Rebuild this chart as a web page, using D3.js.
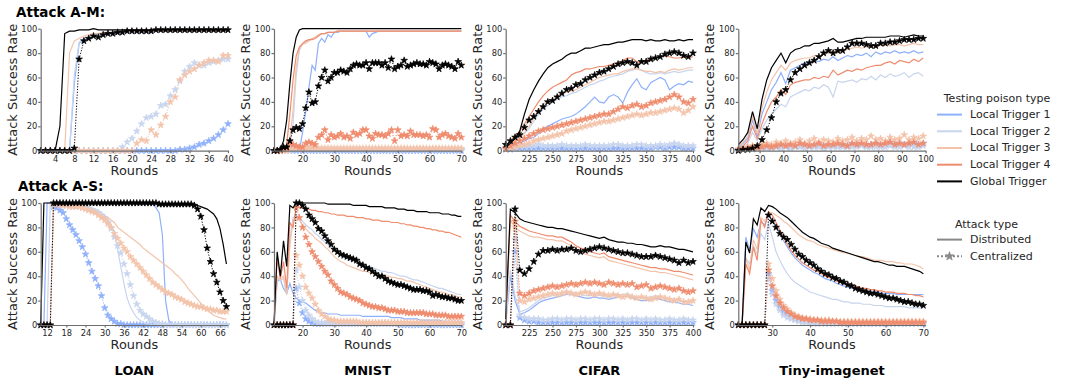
<!DOCTYPE html>
<html>
<head>
<meta charset="utf-8">
<script src="https://cdn.jsdelivr.net/npm/d3@7"></script>
<style>
  body { margin: 0; background: #fff; }
  text { font-family: "DejaVu Sans", sans-serif; fill: #262626; }
  .axis text { font-size: 8.3px; }
  .axis path, .axis line { stroke: #6e6e6e; stroke-width: 1.2; }
</style>
</head>
<body>
<svg id="chart" width="1065" height="378"></svg>
<script>
const triggerNames = ["Local Trigger 1", "Local Trigger 2", "Local Trigger 3", "Local Trigger 4", "Global Trigger"];
const triggerColors = ["#8fb0fb", "#c8d5ee", "#f3c4ab", "#ef8c6e", "#000000"];
const attackTypes = ["Distributed", "Centralized"];
const datasetNames = ["LOAN", "MNIST", "CIFAR", "Tiny-imagenet"];
const rowTitles = ["Attack A-M:", "Attack A-S:"];
const yTicks = [0, 20, 40, 60, 80, 100];

// every series list is ordered LT1, LT2, LT3, LT4, Global (null = not plotted)

// LOAN, A-M
const loanAM_rounds = d3.range(1, 41);
const loanAM_dist = [
  [0,0,0,0,0,0,0,55,88,91, 93,94,95,95,96,96,96,97,97,97, 97,97,97,97,98,98,98,98,98,98, 98,98,98,98,98,98,98,98,98,98],
  [0,0,0,0,0,0,0,62,89,92, 93,94,95,96,96,96,97,97,97,97, 97,97,97,98,98,98,98,98,98,98, 98,98,98,98,98,98,98,98,98,98],
  [0,0,0,0,0,0,80,90,92,94, 95,96,96,97,97,97,98,98,98,98, 98,98,98,98,98,98,98,98,98,98, 98,98,98,98,98,98,98,98,98,98],
  null,
  [0,0,0,0,20,96,98,98,99,99, 99,100,99,99,99,99,99,99,99,99, 99,99,99,99,99,99,99,99,99,99, 99,99,99,99,99,99,99,99,99,99]
];
const loanAM_cent = [
  [0,0,0,0,0,0,0,0,0,0, 0,0,0,0,0,0,0,0,0,0, 0,0,0,0,0,0,0,0,0,1, 1,2,3,5,6,8,10,13,17,22],
  [0,0,0,0,0,0,0,0,0,0, 0,0,0,0,0,0,0,3,7,10, 16,22,27,28,30,37,38,45,50,57, 65,69,72,70,70,72,73,74,75,75],
  [0,0,0,0,0,0,0,0,0,0, 0,0,0,0,0,0,0,0,0,0, 6,9,8,17,13,21,28,40,44,58, 62,65,67,70,72,74,74,73,78,78],
  null,
  [0,0,0,0,0,0,0,2,75,90, 92,94,93,95,96,96,97,97,98,98, 98,98,98,98,99,99,99,99,99,99, 99,99,99,99,99,99,99,99,99,99]
];

// MNIST, A-M
const mnistAM_rounds = d3.range(11, 71);
const mnistAM_dist = [
  [0,0,0,0,0,0,0,0,0,15, 32,52,70,66,88,92,89,95,93,97, 97,98,98,98,98,98,98,98,98,98, 93,96,97,98,98,98,98,98,98,98, 98,98,98,98,98,98,98,98,98,98, 98,98,98,98,98,98,98,98,98,98],
  [0,0,0,0,1,6,22,62,82,88, 89,91,92,93,95,96,96,97,97,97, 98,98,98,98,98,98,98,98,98,98, 98,98,98,98,98,98,98,98,98,98, 98,98,98,98,98,98,98,98,98,98, 98,98,98,98,98,98,98,98,98,98],
  [0,0,0,0,2,10,33,69,84,87, 88,90,92,93,95,96,96,97,97,97, 98,98,98,98,98,98,98,98,98,98, 98,98,98,98,98,98,98,98,98,98, 98,98,98,98,98,98,98,98,98,98, 98,98,98,98,98,98,98,98,98,98],
  [0,0,0,1,5,30,58,78,85,88, 90,91,91,92,94,96,96,97,97,97, 98,98,98,98,98,98,98,98,98,98, 98,98,98,98,98,98,98,98,98,98, 98,98,98,98,98,98,98,98,98,98, 98,98,98,98,98,98,98,98,98,98],
  [2,0,1,8,25,55,80,93,99,100, 100,100,100,100,100,100,100,100,100,100, 100,100,100,100,100,100,100,100,100,100, 100,100,100,100,100,100,100,100,100,100, 100,100,100,100,100,100,100,100,100,100, 100,100,100,100,100,100,100,100,100,100]
];
const mnistAM_cent = [
  [0,0,0,0,0,0,0,0,0,0, 0,0,0,0,0,0,0,0,0,0, 0,0,0,0,0,0,0,0,0,0, 0,0,0,0,0,0,0,0,0,0, 0,0,0,0,0,0,0,0,0,0, 0,0,0,0,0,0,0,0,0,0],
  [0,0,0,0,0,0,1,1,1,1, 1,1,1,1,1,1,1,1,1,1, 1,1,1,1,1,1,1,1,1,1, 1,1,1,1,1,1,1,1,1,1, 1,1,1,1,1,1,1,1,1,1, 1,1,1,1,1,1,1,1,1,1],
  [0,0,0,0,0,1,2,2,2,2, 2,2,2,2,2,2,2,2,2,2, 2,2,2,2,2,2,2,2,2,2, 2,2,2,2,2,2,2,2,2,2, 2,2,2,2,2,2,2,2,2,2, 2,2,2,2,2,2,2,2,2,2],
  [0,0,0,1,2,6,5,4,3,3, 6,7,6,5,11,13,17,9,13,11, 12,14,11,12,10,15,13,14,17,17, 12,10,14,13,13,12,14,17,8,17, 12,13,12,16,13,13,13,12,13,11, 18,17,11,13,14,12,11,10,14,11],
  [0,0,1,3,3,8,17,19,18,22, 35,48,39,40,53,60,66,57,60,64, 64,66,65,64,67,70,71,70,70,72, 67,72,72,72,70,72,68,75,67,69, 70,74,69,70,71,72,71,71,70,73, 72,71,67,70,71,70,69,67,73,70]
];

// CIFAR, A-M
const cifarAM_rounds = d3.range(200, 401, 5);
const cifarAM_dist = [
  [1,2,4,6,8,10,11,14,18,20, 22,24,26,27,28,30,33,36,40,44, 40,39,44,46,44,39,48,54,59,52, 50,56,58,60,58,50,53,55,54,57, 56],
  [2,4,7,10,14,18,24,30,34,37, 40,42,44,45,47,48,50,52,54,55, 57,58,60,61,62,63,65,66,67,66, 64,63,63,64,63,64,65,64,65,66, 66],
  [3,5,8,11,15,20,27,33,38,41, 43,45,47,48,49,50,52,54,56,58, 60,61,62,63,63,65,66,67,67,66, 65,65,64,65,64,66,67,66,67,68, 68],
  [4,8,12,16,22,28,34,40,45,49, 52,54,56,58,62,64,65,67,67,68, 69,69,70,71,72,74,76,76,73,72, 74,75,76,77,78,77,76,76,77,76, 77],
  [3,6,10,16,30,42,50,57,63,68, 71,73,75,78,80,80,82,84,84,85, 86,87,87,88,89,89,90,91,91,91, 90,91,90,90,91,90,90,91,90,91, 91]
];
const cifarAM_cent = [
  [1,1,2,2,2,2,2,2,2,2, 2,2,2,2,2,2,2,2,2,2, 2,2,2,2,2,2,2,2,2,2, 2,2,3,3,2,3,3,3,2,2, 2],
  [2,3,3,4,4,4,4,5,4,4, 4,4,5,4,4,4,4,5,4,4, 4,4,4,5,5,4,4,4,5,5, 4,4,4,5,4,5,6,5,4,4, 4],
  [1,2,3,4,5,6,8,9,10,11, 12,13,14,16,17,18,19,20,21,22, 23,24,24,25,26,27,28,29,30,29, 30,31,31,32,33,34,35,34,31,33, 36],
  [2,4,6,8,10,12,14,16,17,18, 19,20,21,22,23,24,25,26,27,28, 29,30,30,32,34,36,35,37,38,36, 37,39,40,41,42,44,46,44,40,39, 42],
  [5,8,11,13,19,25,28,32,36,40, 41,44,47,50,51,54,55,58,60,62, 64,65,67,69,71,72,73,72,70,73, 73,75,76,77,79,80,81,80,78,77, 80]
];

// Tiny-imagenet, A-M
const tinyAM_rounds = d3.range(21, 100, 2);
const tinyAM_dist = [
  [3,6,10,25,12,30,40,50,56,64, 55,66,68,70,72,72,74,73,75,74, 77,74,76,78,77,79,78,80,77,81, 79,81,80,82,80,81,80,82,80,81],
  [2,3,6,15,8,18,25,30,34,38, 36,44,46,48,50,49,52,51,54,52, 44,57,56,57,58,56,59,58,61,58, 62,60,63,61,62,64,60,63,64,61],
  [4,7,12,28,14,35,48,58,64,70, 66,72,74,75,76,76,78,77,79,80, 82,80,82,83,84,85,84,85,86,85, 86,87,86,87,87,86,87,88,87,87],
  [2,4,8,20,10,22,32,40,44,50, 46,54,56,57,58,58,60,59,61,60, 66,62,64,66,65,67,66,68,69,70, 70,72,73,71,74,73,72,75,73,76],
  [5,9,15,32,18,42,58,68,74,80, 72,80,83,84,86,86,88,88,89,90, 92,89,89,90,91,92,92,93,93,93, 93,93,94,94,94,93,94,95,94,94]
];
const tinyAM_cent = [
  [1,1,2,2,2,3,3,4,3,4, 4,3,4,4,5,4,4,5,4,4, 5,4,5,4,5,6,5,4,5,6, 5,5,6,5,6,5,6,6,5,6],
  [0,1,1,1,2,2,2,2,3,2, 3,2,3,3,2,3,3,3,2,3, 3,3,3,3,3,3,4,3,3,3, 3,3,4,3,3,4,3,3,3,4],
  [1,2,3,4,3,5,6,5,7,6, 8,6,7,9,6,8,10,7,9,8, 7,10,8,9,11,8,10,9,12,9, 10,8,11,9,10,13,9,11,10,12],
  [1,1,2,3,2,3,4,3,4,5, 4,5,4,6,5,4,5,6,4,5, 5,6,5,4,6,5,6,5,5,6, 5,6,7,5,6,5,6,7,5,6],
  [0,1,1,2,4,9,17,27,40,47, 50,58,64,67,70,72,74,77,80,82, 80,82,82,85,88,88,88,87,86,86, 88,88,89,89,90,91,91,91,92,92]
];

// LOAN, A-S
const loanAS_rounds = d3.range(10, 69);
const loanAS_dist = [
  [0,0,100,100,100,100,100,100,100,100, 100,100,100,100,100,100,100,100,100,100, 100,100,100,100,100,100,100,100,100,100, 99,99,99,99,99,99,96,92,74,20, 4,1,0,0,0,0,0,0,0,0, 0,0,0,0,0,0,0,0,0],
  [0,0,0,100,100,100,100,100,100,100, 100,100,99,99,98,97,96,95,94,92, 90,87,82,76,62,48,34,22,15,10, 6,4,2,1,1,0,0,0,0,0, 0,0,0,0,0,0,0,0,0,0, 0,0,0,0,0,0,0,0,0],
  [0,0,0,0,100,99,99,98,98,97, 97,96,96,95,95,94,93,92,91,90, 89,88,86,84,80,78,76,74,72,70, 68,66,63,61,59,57,55,53,51,49, 47,45,42,40,37,34,30,27,24,21, 18,15,12,10,8,7,6,5,5],
  null,
  [0,100,100,100,100,100,100,100,100,100, 100,100,100,100,100,100,100,100,100,100, 100,100,100,100,100,100,100,100,100,100, 100,100,100,100,100,100,100,100,99,99, 99,99,99,99,99,99,99,99,99,98, 97,96,95,93,91,87,79,66,50]
];
const loanAS_cent = [
  [0,0,0,0,97,96,94,92,87,82, 78,74,69,64,58,51,44,38,32,24, 14,8,5,3,1,1,0,0,0,0, 0,0,0,0,0,0,0,0,0,0, 0,0,0,0,0,0,0,0,0,0, 0,0,0,0,0,0,0,0,0],
  [0,0,0,0,99,99,99,98,98,98, 97,97,97,96,96,95,94,93,92,90, 88,84,79,72,65,59,50,42,33,24, 17,12,9,7,5,3,2,1,1,0, 0,0,0,0,0,0,0,0,0,0, 0,0,0,0,0,0,0,0,0],
  [0,0,0,0,99,99,98,98,98,97, 97,97,97,96,95,94,93,92,90,88, 86,83,80,75,71,67,63,60,56,53, 50,47,44,41,38,35,33,31,29,27, 26,25,23,22,21,19,18,17,16,15, 15,14,13,13,12,12,11,11,11],
  null,
  [0,0,0,0,100,100,100,100,100,100, 100,100,100,100,100,100,100,100,100,100, 100,100,100,100,100,100,100,100,100,100, 100,100,100,100,100,100,100,99,99,99, 99,99,99,99,99,99,99,99,98,95, 89,78,63,52,42,35,27,20,15]
];

// MNIST, A-S
const mnistAS_rounds = d3.range(11, 71);
const mnistAS_dist = [
  [0,36,37,30,26,34,26,22,20,19, 18,16,14,12,11,10,10,9,9,9, 9,8,8,8,8,8,8,8,7,7, 7,7,7,7,7,7,7,6,6,6, 6,5,5,5,5,5,4,4,4,4, 4,4,4,3,3,3,3,3,3,3],
  [0,38,36,38,25,70,88,90,88,85, 82,80,78,75,73,70,68,66,63,61, 59,57,56,54,53,52,51,50,49,48, 48,47,46,45,44,44,43,43,42,41, 40,40,39,38,37,37,36,35,34,33, 32,31,30,30,29,28,27,26,25,25],
  [0,40,37,40,25,65,85,88,86,82, 79,76,74,71,69,67,64,62,59,56, 54,52,51,49,48,47,46,45,44,44, 43,42,42,41,41,40,40,39,39,38, 38,37,36,36,35,34,33,32,31,30, 29,28,27,27,26,25,25,24,23,23],
  [0,55,38,52,30,84,80,97,96,96, 95,95,94,94,93,93,92,92,91,91, 90,90,90,89,89,89,88,88,88,87, 87,86,86,86,85,85,85,84,84,84, 83,83,82,82,81,81,80,80,79,79, 78,78,77,77,76,76,75,74,73,72],
  [0,60,40,69,48,98,96,100,100,100, 100,100,100,100,100,100,100,99,99,99, 99,99,99,99,99,98,98,98,98,98, 97,97,97,97,97,96,96,96,96,95, 95,95,94,94,94,93,93,93,93,92, 92,92,92,91,91,91,90,90,89,89]
];
const mnistAS_cent = [
  [0,0,0,0,0,0,0,30,18,10, 5,3,2,1,1,1,1,1,1,1, 1,1,1,1,1,1,1,1,1,1, 1,1,1,1,1,1,1,1,1,1, 0,0,0,0,0,0,0,0,0,0, 0,0,0,0,0,0,0,0,0,0],
  [0,0,0,0,0,0,0,45,31,20, 12,8,5,3,2,2,1,1,1,1, 1,1,1,1,1,1,1,1,1,1, 1,1,1,1,1,1,1,1,1,1, 1,1,1,1,1,1,1,1,1,1, 1,1,1,1,1,1,1,1,1,1],
  [0,0,0,0,0,0,0,57,49,40, 31,26,22,17,12,9,7,5,4,4, 3,3,3,3,3,3,3,2,2,2, 2,2,2,2,2,2,2,2,2,2, 2,2,2,2,2,2,2,2,2,2, 2,2,2,2,2,2,2,2,2,2],
  [0,0,0,0,0,0,0,96,88,80, 72,66,60,56,52,48,44,41,36,33, 30,27,26,25,23,22,21,20,18,17, 16,15,15,14,14,13,12,12,12,11, 11,11,10,10,10,10,10,10,9,9, 9,8,8,8,8,7,7,7,7,7],
  [0,0,0,0,0,0,0,100,100,98, 95,90,87,84,79,77,73,69,66,62, 60,58,57,56,55,54,53,50,49,47, 46,44,42,40,40,38,36,35,34,33, 33,32,31,30,29,29,29,28,28,27, 24,25,24,23,23,22,22,21,20,20]
];

// CIFAR, A-S
const cifarAS_rounds = d3.range(200, 401, 5);
const cifarAS_dist = [
  [1,40,20,9,10,12,15,18,20,21, 22,23,24,25,25,24,23,22,22,23, 22,22,21,22,23,23,24,22,21,20, 20,21,22,21,20,19,19,18,17,17, 16],
  [1,45,24,11,12,14,17,20,22,23, 24,25,26,27,27,26,25,24,24,25, 24,24,23,24,25,25,26,24,23,22, 22,23,24,23,22,21,21,20,19,19, 18],
  [2,86,80,77,75,73,72,72,71,70, 70,69,69,67,65,62,60,58,57,56, 55,56,53,52,51,50,49,48,47,46, 45,44,44,43,43,42,41,40,39,38, 37],
  [3,90,85,81,79,77,76,75,74,73, 73,72,72,70,68,65,63,62,60,59, 58,59,56,55,54,53,52,51,50,49, 48,47,47,46,46,45,44,44,43,42, 41],
  [5,95,92,87,85,84,83,82,81,80, 80,79,79,78,77,76,75,74,73,72, 71,72,70,69,68,68,67,67,66,66, 65,64,64,65,64,64,63,62,62,61, 60]
];
const cifarAS_cent = [
  [0,0,60,6,4,3,3,2,2,2, 2,2,2,2,2,2,2,2,2,2, 2,2,2,2,2,2,2,2,2,2, 2,2,2,2,2,2,2,2,2,2, 2],
  [0,0,70,8,6,5,5,5,4,4, 5,5,4,5,5,4,5,5,4,5, 5,4,5,5,4,5,4,5,5,4, 5,4,5,4,4,5,4,4,5,4, 4],
  [0,0,80,20,19,21,22,23,24,25, 26,25,26,27,26,25,26,27,26,25, 26,25,24,25,24,23,24,23,22,23, 22,21,22,23,22,21,20,21,19,19, 20],
  [0,0,85,26,24,26,28,29,30,31, 32,31,32,33,34,33,34,35,34,35, 34,33,35,34,33,34,33,34,31,32, 33,30,31,32,31,30,29,30,28,27, 28],
  [0,0,95,45,42,46,52,58,61,61, 62,61,62,62,63,61,60,61,62,63, 64,63,62,61,60,59,59,58,57,56, 56,56,57,56,55,54,53,51,53,51, 52]
];

// Tiny-imagenet, A-S
const tinyAS_rounds = d3.range(21, 71);
const tinyAS_dist = [
  [0,0,72,61,79,72,85,82,90,86, 80,75,69,64,59,55,52,49,47,45, 43,42,40,38,37,36,34,33,32,31, 30,30,29,28,28,27,27,27,26,26, 26,26,25,25,25,25,25,25,25,25],
  [0,0,55,50,65,58,75,70,83,72, 60,53,47,42,38,35,33,31,29,27, 26,25,24,23,22,21,21,20,19,19, 18,18,18,17,17,17,16,16,16,15, 15,15,15,15,15,14,14,14,14,14],
  [0,0,55,45,70,62,88,85,92,92, 90,88,85,83,80,77,74,72,70,69, 68,66,65,64,63,62,61,60,59,59, 58,57,56,56,55,54,53,53,53,52, 52,52,51,51,50,50,50,49,48,46],
  [0,0,50,42,64,53,86,80,93,90, 84,78,72,66,61,57,54,51,49,47, 45,44,42,40,39,38,36,35,34,33, 32,32,31,30,30,29,29,28,28,27, 27,27,26,26,26,25,25,24,24,23],
  [0,0,68,59,87,82,96,93,98,97, 95,92,90,88,85,82,79,76,74,72, 71,69,67,66,65,63,62,61,60,59, 58,57,56,55,54,53,52,52,51,50, 49,49,48,48,48,47,46,45,44,42]
];
const tinyAS_cent = [
  [0,0,0,0,0,0,0,0,42,28, 20,14,10,8,6,5,4,3,3,2, 2,2,2,2,2,2,2,2,1,1, 1,1,1,1,1,1,1,1,1,1, 1,1,1,1,1,1,1,1,1,1],
  [0,0,0,0,0,0,0,0,38,25, 17,12,8,6,5,4,3,2,2,2, 1,1,1,1,1,1,1,1,1,1, 1,1,1,1,1,1,1,1,1,1, 1,1,1,1,1,1,1,1,1,1],
  [0,0,0,0,0,0,0,0,50,38, 28,21,16,13,10,8,7,6,5,5, 4,4,4,4,4,3,3,3,3,3, 3,3,3,3,3,3,3,3,3,3, 3,3,3,3,3,3,3,3,3,3],
  [0,0,0,0,0,0,0,0,45,32, 24,18,14,11,9,7,6,5,5,4, 4,4,3,3,3,3,3,2,2,2, 2,2,2,2,2,2,2,2,2,2, 2,2,2,2,2,2,2,2,2,2],
  [0,0,0,0,0,0,0,0,90,85, 80,75,72,70,66,62,58,56,53,51, 49,46,44,42,41,39,38,36,35,33, 32,30,29,28,27,26,26,25,24,23, 22,22,21,20,19,19,18,17,17,16]
];

const panels = [
  { row: 0, col: 0, rounds: loanAM_rounds, dist: loanAM_dist, cent: loanAM_cent, domain: [1, 40], ticks: [4,8,12,16,20,24,28,32,36,40] },
  { row: 0, col: 1, rounds: mnistAM_rounds, dist: mnistAM_dist, cent: mnistAM_cent, domain: [11, 70], ticks: [20,30,40,50,60,70] },
  { row: 0, col: 2, rounds: cifarAM_rounds, dist: cifarAM_dist, cent: cifarAM_cent, domain: [200, 400], ticks: [225,250,275,300,325,350,375,400] },
  { row: 0, col: 3, rounds: tinyAM_rounds, dist: tinyAM_dist, cent: tinyAM_cent, domain: [21, 100], ticks: [30,40,50,60,70,80,90,100] },
  { row: 1, col: 0, rounds: loanAS_rounds, dist: loanAS_dist, cent: loanAS_cent, domain: [10, 68.5], ticks: [12,18,24,30,36,42,48,54,60,66] },
  { row: 1, col: 1, rounds: mnistAS_rounds, dist: mnistAS_dist, cent: mnistAS_cent, domain: [11, 70], ticks: [20,30,40,50,60,70] },
  { row: 1, col: 2, rounds: cifarAS_rounds, dist: cifarAS_dist, cent: cifarAS_cent, domain: [200, 400], ticks: [225,250,275,300,325,350,375,400] },
  { row: 1, col: 3, rounds: tinyAS_rounds, dist: tinyAS_dist, cent: tinyAS_cent, domain: [21, 70.6], ticks: [30,40,50,60,70] }
];

const svg = d3.select("#chart");
const panelW = 187.3, panelH = 122;
const lefts = [40.7, 274, 505.7, 738.3];
const tops = [28.7, 203];
const star = d3.symbol().type(d3.symbolStar).size(14);

panels.forEach(p => {
  const left = lefts[p.col], top = tops[p.row];
  const x = d3.scaleLinear().domain(p.domain).range([0, panelW]);
  const y = d3.scaleLinear().domain([0, 100]).range([panelH, 0]);
  const g = svg.append("g").attr("transform", `translate(${left},${top})`);

  const pts = vals => vals.slice(0, p.rounds.length).map((v, i) => [p.rounds[i], v]);
  const line = d3.line().x(d => x(d[0])).y(d => y(d[1]));

  for (let k = 0; k < 5; k++) {
    const color = triggerColors[k];
    if (p.dist[k]) {
      g.append("path").datum(pts(p.dist[k]))
        .attr("d", line).attr("fill", "none")
        .attr("stroke", color).attr("stroke-width", 1.2);
    }
    if (p.cent[k]) {
      const data = pts(p.cent[k]);
      g.append("path").datum(data)
        .attr("d", line).attr("fill", "none")
        .attr("stroke", color).attr("stroke-width", 1)
        .attr("stroke-dasharray", "1.2,1.6");
      g.append("g").selectAll("path").data(data).join("path")
        .attr("d", star)
        .attr("transform", d => `translate(${x(d[0])},${y(d[1])})`)
        .attr("fill", color)
        .attr("stroke", color).attr("stroke-width", 0.7).attr("stroke-linejoin", "round");
    }
  }

  g.append("g").attr("class", "axis")
    .attr("transform", `translate(0,${panelH})`)
    .call(d3.axisBottom(x).tickValues(p.ticks).tickSize(2.5).tickSizeOuter(0).tickPadding(2.5));
  g.append("g").attr("class", "axis")
    .call(d3.axisLeft(y).tickValues(yTicks).tickSize(2.5).tickSizeOuter(0).tickPadding(1));

  g.append("text")
    .attr("transform", `translate(-24,${panelH / 2}) rotate(-90)`)
    .attr("text-anchor", "middle").style("font-size", "13px")
    .text("Attack Success Rate");
  g.append("text")
    .attr("x", panelW / 2).attr("y", panelH + 24)
    .attr("text-anchor", "middle").style("font-size", "12.9px")
    .text("Rounds");

  if (p.row === 1) {
    g.append("text")
      .attr("x", panelW / 2).attr("y", 375 - top)
      .attr("text-anchor", "middle")
      .style("font-size", "13px").style("font-weight", "bold").style("fill", "#000")
      .text(datasetNames[p.col]);
  }
});

// row titles
svg.append("text").attr("x", 16).attr("y", 16.5)
  .style("font-size", "13.5px").style("font-weight", "bold").style("fill", "#000")
  .text(rowTitles[0]);
svg.append("text").attr("x", 18).attr("y", 190.5)
  .style("font-size", "13.5px").style("font-weight", "bold").style("fill", "#000")
  .text(rowTitles[1]);

// legend
const leg = svg.append("g").style("font-size", "11px");
leg.append("text").attr("x", 997).attr("y", 102.3).attr("text-anchor", "middle")
  .text("Testing poison type");
triggerNames.forEach((name, i) => {
  const yy = 118 + i * 16.7;
  leg.append("line").attr("x1", 937).attr("x2", 962).attr("y1", yy - 3.4).attr("y2", yy - 3.4)
    .attr("stroke", triggerColors[i]).attr("stroke-width", 2);
  leg.append("text").attr("x", 970).attr("y", yy).text(name);
});
leg.append("text").attr("x", 986.5).attr("y", 227.5).attr("text-anchor", "middle")
  .text("Attack type");
attackTypes.forEach((name, i) => {
  const yy = 243 + i * 16.7;
  const ln = leg.append("line").attr("x1", 937).attr("x2", 962).attr("y1", yy - 3.4).attr("y2", yy - 3.4)
    .attr("stroke", "#888").attr("stroke-width", 2);
  if (i === 1) {
    ln.attr("stroke-dasharray", "2,2");
    leg.append("path").attr("d", d3.symbol().type(d3.symbolStar).size(24))
      .attr("transform", `translate(949.5,${yy - 3.4})`).attr("fill", "#888")
      .attr("stroke", "#888").attr("stroke-width", 0.7);
  }
  leg.append("text").attr("x", 970).attr("y", yy).text(name);
});
</script>
</body>
</html>
